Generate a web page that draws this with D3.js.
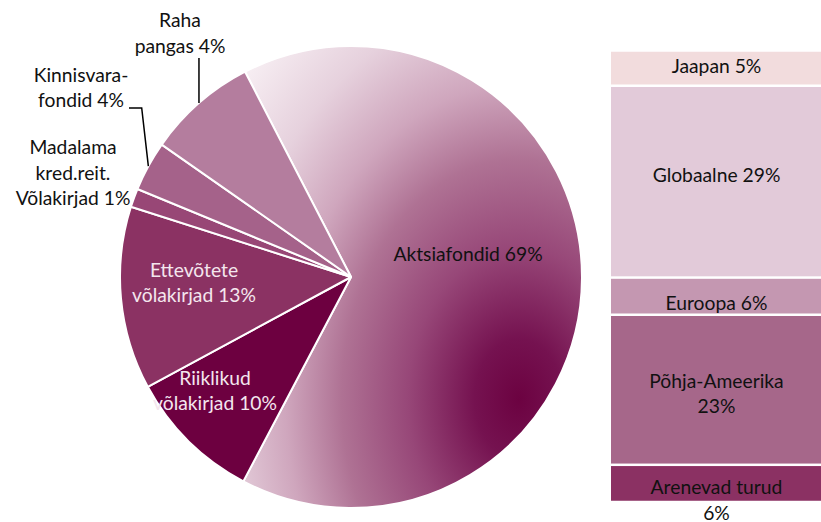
<!DOCTYPE html>
<html>
<head>
<meta charset="utf-8">
<script src="https://cdn.jsdelivr.net/npm/d3@7"></script>
<style>
  body { margin: 0; background: #fff; }
  svg text { font-family: Lato, "Noto Sans", sans-serif; }
</style>
</head>
<body>
<div id="chart"></div>
<script>
// Pie: asset classes (slice sizes, labels as printed)
const pieNames = ["Aktsiafondid", "Riiklikud", "Ettevõtete", "Madalama", "Kinnisvara", "Raha"];
const pieValues = [65.3, 9.4, 12.8, 1.3, 3.5, 7.7];
const pieLabels = [
  ["Aktsiafondid 69%"],
  ["Riiklikud", "võlakirjad 10%"],
  ["Ettevõtete", "võlakirjad 13%"],
  ["Madalama", "kred.reit.", "Võlakirjad 1%"],
  ["Kinnisvara-", "fondid 4%"],
  ["Raha", "pangas 4%"]
];

// Stacked bar: regions of the equity funds, top to bottom
const barNames = ["Jaapan", "Globaalne", "Euroopa", "Põhja-Ameerika", "Arenevad turud"];
const barValues = [5.4, 29.4, 5.7, 23.0, 5.7];
const barLabels = [
  ["Jaapan 5%"],
  ["Globaalne 29%"],
  ["Euroopa 6%"],
  ["Põhja-Ameerika", "23%"],
  ["Arenevad turud", "6%"]
];

const width = 821, height = 522;
const cx = 351, cy = 277, radius = 231;
const lineH = 25.4;
const fontSize = "19.3px";

const pieColors = ["url(#aktsiaGrad)", "#6d0040", "#8b3263", "#984776", "#a5628a", "#b47d9e"];
const pieTextColors = ["#111", "#f4e6ee", "#f4e6ee", "#111", "#111", "#111"];
// label position of first baseline, relative to pie centre
const pieLabelPos = [[117, -16.3], [-136, 108], [-157, -0.3], [-278, -122.7], [-270, -195.3], [-171, -249.7]];

const barColors = ["#f2dcdd", "#e2cad9", "#c497b1", "#a6678a", "#8b3163"];
const barLabelDy = [5, 0, 13.5, -1.7, 11];

const svg = d3.select("#chart")
  .append("svg")
  .attr("width", width)
  .attr("height", height);

// gradient for the big slice (coordinates are in the pie group's space)
const grad = svg.append("defs")
  .append("radialGradient")
  .attr("id", "aktsiaGrad")
  .attr("gradientUnits", "userSpaceOnUse")
  .attr("cx", 0).attr("cy", 0).attr("r", 1)
  .attr("gradientTransform", "translate(168,122) scale(370,500)");
[[0, "#6c0241"], [0.12, "#751250"], [0.3, "#974778"], [0.48, "#af7294"], [0.63, "#cfa6bd"],
 [0.8, "#e6d1dd"], [1, "#f8f0f4"]].forEach(s => {
  grad.append("stop").attr("offset", s[0]).attr("stop-color", s[1]);
});

const pie = d3.pie()
  .sort(null)
  .startAngle(-27.3 * Math.PI / 180)
  .endAngle(-27.3 * Math.PI / 180 + 2 * Math.PI)
  .value(d => d);

const arc = d3.arc().innerRadius(0).outerRadius(radius);
const arcs = pie(pieValues);

const g = svg.append("g").attr("transform", `translate(${cx},${cy})`);

g.selectAll("path")
  .data(arcs)
  .join("path")
  .attr("d", arc)
  .attr("fill", (d, i) => pieColors[i])
  .attr("stroke", "#fff")
  .attr("stroke-width", 2)
  .attr("stroke-linejoin", "round");

// pie labels
pieLabels.forEach((lines, i) => {
  const t = g.append("text")
    .attr("text-anchor", "middle")
    .attr("font-size", fontSize)
    .attr("fill", pieTextColors[i]);
  lines.forEach((l, j) => {
    t.append("tspan")
      .attr("x", pieLabelPos[i][0])
      .attr("y", pieLabelPos[i][1] + j * lineH)
      .text(l);
  });
});

// leader lines from the middle of the slice edge
function edgePoint(d) {
  const a = (d.startAngle + d.endAngle) / 2;
  return [radius * Math.sin(a), -radius * Math.cos(a)];
}
const raha = edgePoint(arcs[5]);
const kinn = edgePoint(arcs[4]);
const leader = d3.line();
g.append("path")
  .attr("d", leader([raha, [raha[0], -219]]))
  .attr("fill", "none").attr("stroke", "#000").attr("stroke-width", 1.5);
g.append("path")
  .attr("d", leader([kinn, [-209.3, -169], [-222, -169]]))
  .attr("fill", "none").attr("stroke", "#000").attr("stroke-width", 1.5);

// stacked bar
const barX0 = 611, barX1 = 822;
const total = d3.sum(barValues);
const y = d3.scaleLinear().domain([0, total]).range([50.5, 502]);
const starts = d3.cumsum([0].concat(barValues)).slice(0, barValues.length);
const gap = 1.25;

svg.selectAll("rect.seg")
  .data(barValues)
  .join("rect")
  .attr("class", "seg")
  .attr("x", barX0)
  .attr("width", barX1 - barX0)
  .attr("y", (d, i) => y(starts[i]) + gap)
  .attr("height", (d, i) => y(starts[i] + d) - y(starts[i]) - 2 * gap)
  .attr("fill", (d, i) => barColors[i]);

barLabels.forEach((lines, i) => {
  const mid = y(starts[i] + barValues[i] / 2);
  const t = svg.append("text")
    .attr("text-anchor", "middle")
    .attr("font-size", fontSize)
    .attr("fill", "#111");
  lines.forEach((l, j) => {
    t.append("tspan")
      .attr("x", (barX0 + barX1) / 2)
      .attr("y", mid + barLabelDy[i] + j * lineH)
      .text(l);
  });
});
</script>
</body>
</html>
